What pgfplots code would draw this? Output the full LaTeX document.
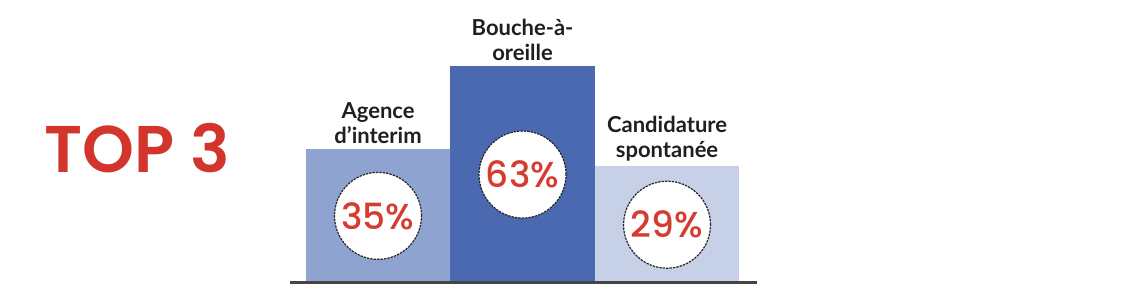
\documentclass[border=0pt]{standalone}
\usepackage{pgfplots}
\pgfplotsset{compat=1.18}
\usepackage{pgfplotstable}
\usepackage{fontspec}
\setmainfont{Poppins}
\newfontfamily\labfont{Lato}
\newfontfamily\topfont{Poppins SemiBold}
\newfontfamily\pctfont{Poppins Medium}
\definecolor{topred}{HTML}{D2352C}
\definecolor{pctred}{HTML}{D63B30}
\definecolor{barA}{HTML}{8FA3D1}
\definecolor{barB}{HTML}{4A69B0}
\definecolor{barC}{HTML}{C6D1E8}
\definecolor{labtxt}{HTML}{1F1F1F}
\definecolor{baseln}{HTML}{454545}

\pgfplotstableread{
x v label
0 35 {Agence\\d’interim}
1 63 {Bouche-à-\\oreille}
2 29 {Candidature\\spontanée}
}\datatable

\begin{document}
\begin{tikzpicture}
\begin{axis}[
 width=570pt, height=142.5pt, scale only axis, hide axis, clip=false,
 xmin=-2.616, xmax=5.273, ymin=-0.68, ymax=95.9,
 /pgf/number format/assume math mode=true,
 barstyle/.style={ybar, bar width=1, bar shift=0pt, draw=none,
   nodes near coords, point meta=explicit symbolic,
   every node near coord/.append style={anchor=south, align=center,
     font={\labfont\bfseries\fontsize{11}{12.5}\selectfont}, text=labtxt, inner sep=2.5pt}},
]
\path (rel axis cs:0,0) rectangle (rel axis cs:1,1);
\addplot[barstyle, fill=barA, skip coords between index={1}{3}]
  table[x=x, y expr=\thisrow{v}+10.5, meta=label] \datatable;
\addplot[barstyle, fill=barB, skip coords between index={0}{1}, skip coords between index={2}{3}]
  table[x=x, y expr=\thisrow{v}+10.5, meta=label] \datatable;
\addplot[barstyle, fill=barC, skip coords between index={0}{2}]
  table[x=x, y expr=\thisrow{v}+10.5, meta=label] \datatable;
\draw[baseln, line width=1.5pt] (axis cs:-0.609,0) -- (axis cs:2.623,0);
\addplot[only marks, mark=*, mark size=21.75pt,
  mark options={fill=white, draw=black!85, line width=0.6pt, dash pattern=on 1.2pt off 0.5pt},
  nodes near coords={\pgfmathprintnumber{\pgfplotspointmeta}\%}, point meta=\thisrow{v},
  every node near coord/.append style={anchor=center, font={\pctfont\fontsize{18}{20}\selectfont}, text=pctred}]
  table[x=x, y expr=(\thisrow{v}+10.5)/2] \datatable;
\node[anchor=base, font={\topfont\fontsize{33}{36}\selectfont}, text=topred] at (rel axis cs:0.1202,0.393) {TOP 3};
\end{axis}
\end{tikzpicture}
\end{document}
